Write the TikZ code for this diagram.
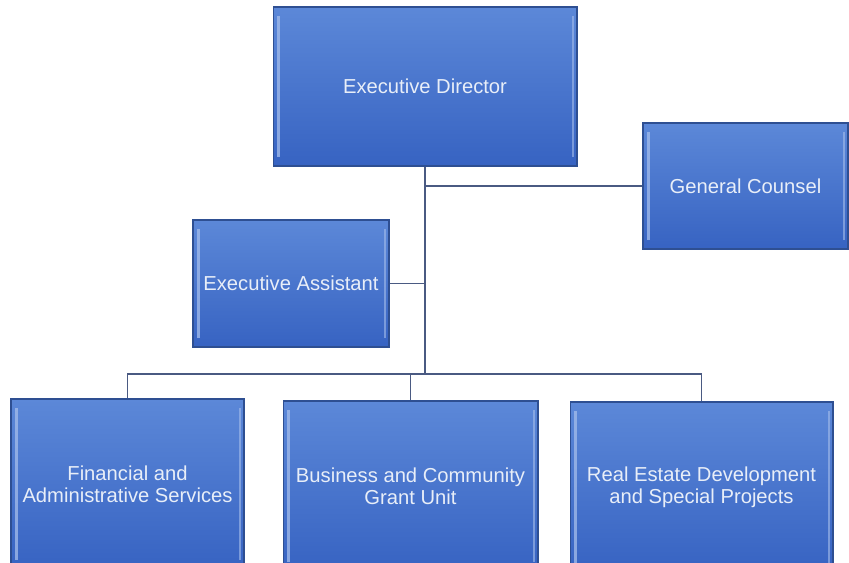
\documentclass[tikz,border=0pt]{standalone}
\usepackage{fontspec}
\setmainfont{Liberation Sans}
\definecolor{boxtop}{HTML}{5C88D8}
\definecolor{boxbot}{HTML}{3763C2}
\definecolor{boxedge}{HTML}{2E4F92}
\definecolor{boxtext}{HTML}{E8EEF8}
\definecolor{linecol}{HTML}{4A5A82}
\tikzset{
  unit/.style={draw=boxedge, line width=0.6pt, top color=boxtop, bottom color=boxbot,
    text=boxtext, align=center, font=\fontsize{11.5}{12.5}\selectfont, inner sep=2pt,
    path picture={\draw[boxtop!55!white, line width=1.6pt, opacity=0.75]
      ([xshift=3pt,yshift=-5pt]path picture bounding box.north west) --
      ([xshift=3pt,yshift=5pt]path picture bounding box.south west);
      \draw[boxtop!55!white, line width=1.2pt, opacity=0.6]
      ([xshift=-2.5pt,yshift=-5pt]path picture bounding box.north east) --
      ([xshift=-2.5pt,yshift=5pt]path picture bounding box.south east);}},
  link/.style={draw=linecol, line width=0.7pt}
}
\begin{document}
\begin{tikzpicture}[x=0.02cm,y=-0.02cm]
\useasboundingbox (0,0) rectangle (849,563);
\node (dir) [unit, minimum width=6.08cm, minimum height=3.18cm] at (425,86.5) {Executive Director};
\node (counsel) [unit, minimum width=4.1cm, minimum height=2.52cm] at (745.5,186) {General Counsel};
\node (assist) [unit, minimum width=3.92cm, minimum height=2.54cm] at (291,283.5) {Executive Assistant};
\node (fin) [unit, minimum width=4.66cm, minimum height=3.4cm] at (127.5,484) {Financial and\\Administrative Services};
\node (biz) [unit, minimum width=5.1cm, minimum height=3.4cm] at (410.5,486) {Business and Community\\Grant Unit};
\node (real) [unit, minimum width=5.26cm, minimum height=3.4cm] at (701.5,487) {Real Estate Development\\and Special Projects};
\coordinate (bus) at (425,374);
\draw [link, line width=1pt] (dir.south) -- (bus);
\draw [link] (counsel.west) -- (dir.south |- counsel.west);
\draw [link] (assist.east) -- (dir.south |- assist.east);
\draw [link] (bus) -| (fin.north);
\draw [link] (bus) -| (biz.north);
\draw [link] (bus) -| (real.north);
\end{tikzpicture}
\end{document}
